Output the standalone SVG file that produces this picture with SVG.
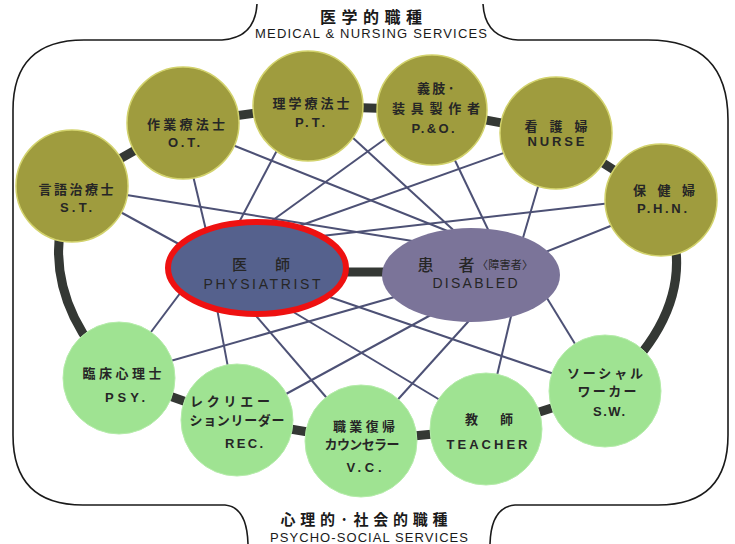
<svg xmlns="http://www.w3.org/2000/svg" width="735" height="544" viewBox="0 0 735 544">
<style>
 .frame{fill:none;stroke:#1a1a1a;stroke-width:1.6}
 .web line{stroke:#4d5175;stroke-width:2}
 .ring{fill:none;stroke:#343834;stroke-width:9}
 .olive circle{fill:#9f9c3e;stroke:#d2d26c;stroke-width:1.5}
 .green circle{fill:#9fe392;stroke:#b5ecaa;stroke-width:1}
 .jp{font-family:"Noto Sans CJK JP",sans-serif;font-size:13px;font-weight:700;fill:#262626;text-anchor:middle}
 .en{font-family:"Liberation Sans","DejaVu Sans",sans-serif;font-size:13px;font-weight:700;fill:#262626;text-anchor:middle}
 .tjp{font-family:"Noto Sans CJK JP",sans-serif;font-size:16px;font-weight:700;fill:#1a1a1a;text-anchor:middle}
 .ten{font-family:"Liberation Sans","DejaVu Sans",sans-serif;font-size:13px;fill:#1a1a1a;text-anchor:middle}
</style>
<rect width="735" height="544" fill="#ffffff"/>
<path class="frame" d="M257,4 Q255,38 222,40 L84,40 Q13,40 13,110 L13,435 Q13,505 83,505 L225,505 Q247,507 248,544"/>
<path class="frame" d="M483,4 Q485,38 518,40 L648,40 Q728,40 728,120 L728,435 Q728,505 658,505 L515,505 Q491,507 490,544"/>
<g id="titles">
 <text class="tjp" x="371" y="23" textLength="102" lengthAdjust="spacing">医学的職種</text>
 <text class="ten" x="371" y="38" textLength="232" lengthAdjust="spacing">MEDICAL &amp; NURSING  SERVICES</text>
 <text class="tjp" x="364" y="525" textLength="167" lengthAdjust="spacing" style="font-size:15px">心理的·社会的職種</text>
 <text class="ten" x="369" y="542" textLength="198" lengthAdjust="spacing">PSYCHO-SOCIAL  SERVICES</text>
</g>
<g id="connectors">
 <g class="web">
  <line x1="104" y1="203" x2="197" y2="254"/>
  <line x1="108" y1="192" x2="425" y2="243"/>
  <line x1="190" y1="163" x2="210" y2="247"/>
  <line x1="220" y1="140" x2="460" y2="236"/>
  <line x1="283" y1="139" x2="235" y2="230"/>
  <line x1="340" y1="126" x2="462" y2="238"/>
  <line x1="396" y1="131" x2="262" y2="228"/>
  <line x1="450" y1="150" x2="494" y2="242"/>
  <line x1="515" y1="149" x2="285" y2="231"/>
  <line x1="540" y1="180" x2="520" y2="248"/>
  <line x1="620" y1="202" x2="295" y2="239"/>
  <line x1="618" y1="223" x2="533" y2="257"/>
  <line x1="190" y1="280" x2="145" y2="340"/>
  <line x1="160" y1="364" x2="405" y2="294"/>
  <line x1="215" y1="298" x2="230" y2="378"/>
  <line x1="275" y1="400" x2="440" y2="310"/>
  <line x1="245" y1="303" x2="338" y2="411"/>
  <line x1="392" y1="406" x2="476" y2="313"/>
  <line x1="280" y1="304" x2="450" y2="406"/>
  <line x1="512" y1="312" x2="495" y2="384"/>
  <line x1="315" y1="292" x2="560" y2="376"/>
  <line x1="542" y1="290" x2="580" y2="352"/>
 </g>
 <path class="ring" d="M72,186 L183,123 L308,106 L432,110 L556,133 L661,200 Q710,300 605,391 L486,429 L361,441 L237,420 L119,378 Q30,290 72,186 Z"/>
 <line x1="340" y1="272" x2="395" y2="272" stroke="#343834" stroke-width="9"/>
</g>
<g id="physiatrist">
 <ellipse cx="257" cy="268" rx="89" ry="46" fill="#55618d" stroke="#ee1111" stroke-width="6"/>
 <text class="jp" x="261" y="270" textLength="58" lengthAdjust="spacing" style="font-size:15px;font-weight:500">医師</text>
 <text class="en" x="262" y="289" textLength="117" lengthAdjust="spacing" style="font-size:14px;font-weight:400">PHYSIATRIST</text>
</g>
<g id="disabled">
 <ellipse cx="471" cy="275" rx="89" ry="47" fill="#7b7499"/>
 <text class="jp" x="446" y="271" textLength="57" lengthAdjust="spacing" style="font-size:16px;font-weight:500">患者</text>
 <text class="jp" x="505" y="269" textLength="56" lengthAdjust="spacing" style="font-size:11px;font-weight:400">〈障害者〉</text>
 <text class="en" x="475" y="288" textLength="85" lengthAdjust="spacing" style="font-size:14px;font-weight:400">DISABLED</text>
</g>
<g id="st" class="olive">
 <circle cx="72" cy="186" r="56"/>
 <text class="jp" x="76" y="194" textLength="75" lengthAdjust="spacing">言語治療士</text>
 <text class="en" x="76" y="212" textLength="32" lengthAdjust="spacing">S.T.</text>
</g>
<g id="ot" class="olive">
 <circle cx="183" cy="123" r="56"/>
 <text class="jp" x="186" y="129" textLength="78" lengthAdjust="spacing">作業療法士</text>
 <text class="en" x="184" y="147" textLength="32" lengthAdjust="spacing">O.T.</text>
</g>
<g id="pt" class="olive">
 <circle cx="308" cy="106" r="55"/>
 <text class="jp" x="311" y="108" textLength="77" lengthAdjust="spacing">理学療法士</text>
 <text class="en" x="310" y="127" textLength="30" lengthAdjust="spacing">P.T.</text>
</g>
<g id="po" class="olive">
 <circle cx="432" cy="110" r="55"/>
 <text class="jp" x="436" y="93" textLength="38" lengthAdjust="spacing">義肢·</text>
 <text class="jp" x="436" y="113" textLength="88" lengthAdjust="spacing">装具製作者</text>
 <text class="en" x="433" y="133" textLength="43" lengthAdjust="spacing">P.&amp;O.</text>
</g>
<g id="nurse" class="olive">
 <circle cx="556" cy="133" r="56"/>
 <text class="jp" x="556" y="131" textLength="63" lengthAdjust="spacing">看護婦</text>
 <text class="en" x="556" y="146" textLength="57" lengthAdjust="spacing">NURSE</text>
</g>
<g id="phn" class="olive">
 <circle cx="661" cy="200" r="56"/>
 <text class="jp" x="664" y="195" textLength="62" lengthAdjust="spacing">保健婦</text>
 <text class="en" x="662" y="213" textLength="50" lengthAdjust="spacing">P.H.N.</text>
</g>
<g id="psy" class="green">
 <circle cx="119" cy="378" r="56"/>
 <text class="jp" x="122" y="378" textLength="79" lengthAdjust="spacing">臨床心理士</text>
 <text class="en" x="125" y="402" textLength="40" lengthAdjust="spacing">PSY.</text>
</g>
<g id="rec" class="green">
 <circle cx="237" cy="420" r="56"/>
 <text class="jp" x="230" y="406" textLength="80" lengthAdjust="spacing">レクリエー</text>
 <text class="jp" x="237" y="425" textLength="95" lengthAdjust="spacing">ションリーダー</text>
 <text class="en" x="244" y="448" textLength="38" lengthAdjust="spacing">REC.</text>
</g>
<g id="vc" class="green">
 <circle cx="361" cy="441" r="56"/>
 <text class="jp" x="364" y="431" textLength="62" lengthAdjust="spacing">職業復帰</text>
 <text class="jp" x="362" y="449" textLength="75" lengthAdjust="spacing">カウンセラー</text>
 <text class="en" x="364" y="472" textLength="35" lengthAdjust="spacing">V.C.</text>
</g>
<g id="teacher" class="green">
 <circle cx="486" cy="429" r="56"/>
 <text class="jp" x="489" y="424" textLength="48" lengthAdjust="spacing">教師</text>
 <text class="en" x="487" y="449" textLength="81" lengthAdjust="spacing">TEACHER</text>
</g>
<g id="sw" class="green">
 <circle cx="605" cy="391" r="56"/>
 <text class="jp" x="605" y="378" textLength="76" lengthAdjust="spacing">ソーシャル</text>
 <text class="jp" x="607" y="396" textLength="59" lengthAdjust="spacing">ワーカー</text>
 <text class="en" x="609" y="416" textLength="32" lengthAdjust="spacing">S.W.</text>
</g>
</svg>
